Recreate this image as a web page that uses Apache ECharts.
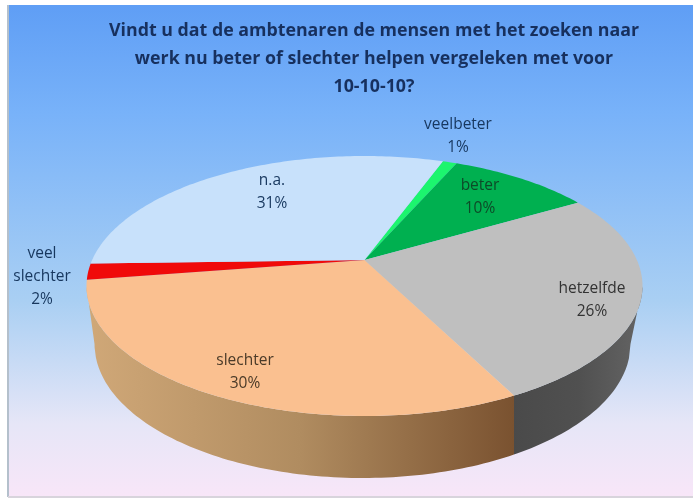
<!DOCTYPE html>
<html><head><meta charset="utf-8">
<style>html,body{margin:0;padding:0;background:#fff}#c{width:693px;height:499px}</style>
<script src="https://cdn.jsdelivr.net/npm/echarts@6/dist/echarts.min.js"></script>
</head><body><div id="c"></div>
<script>
const categories = ['veelbeter','beter','hetzelfde','slechter','veel slechter','n.a.'];
const values = [1,10,26,30,2,31];
const titleLines = ['Vindt u dat de ambtenaren de mensen met het zoeken naar','werk nu beter of slechter helpen vergeleken met voor','10-10-10?'];

const topColors = ['#1cf56e','#00b050','#bfbfbf','#fac090','#f00a0a','#c8e1fb'];
const wallStops = [null,null,['#4a4a4a','#505050','#646464'],['#d0a878','#b08c60','#7a5230'],null,null];
const labelPos = [[458,136],[480,197],[592,300],[245,372],[42,277],[272,192]];
const labelColors = ['#17375e','#0d4a28','#333333','#4a3a28','#17375e','#17375e'];

const START = 20, TILT = -0.2;
const TOP = {cx:364.5, cy:286, rx:278, ry:130};
const BASE = {cx:362.5, cy:344, rx:268, ry:134};
const total = values.reduce((a,b)=>a+b,0);

// perspective: true pie angle -> normalised point on the projected ellipse
function proj(deg){
  const t = deg*Math.PI/180, u = Math.sin(t), v = -Math.cos(t);
  const d = 1 + TILT*v;
  return [u*Math.sqrt(1-TILT*TILT)/d, (v+TILT)/d];
}
function place(p,e){ return [e.cx+e.rx*p[0], e.cy+e.ry*p[1]]; }
// the wall drops straight down from the rim to the lower ellipse
function drop(pt){
  const x = Math.max(BASE.cx-BASE.rx, Math.min(BASE.cx+BASE.rx, pt[0]));
  const n = (x-BASE.cx)/BASE.rx;
  return [x, BASE.cy + BASE.ry*Math.sqrt(Math.max(0,1-n*n))];
}

function renderItem(params, api){
  const i = params.dataIndex;
  let cum = 0; for(let k=0;k<i;k++) cum += values[k];
  const a0 = START + cum/total*360, a1 = a0 + api.value(1)/total*360;
  const rim = [];
  for(let a=a0;;a+=1){ const c=Math.min(a,a1); rim.push(proj(c)); if(c>=a1)break; }
  const apex = [TOP.cx, TOP.cy + TOP.ry*TILT];
  const children = [];
  const front = rim.filter(p=>p[1]>=0);
  if(wallStops[i] && front.length>1){
    const up = front.map(p=>place(p,TOP)), down = up.map(drop).reverse();
    const s = wallStops[i];
    children.push({type:'polygon',shape:{points:up.concat(down)},
      style:{fill:new echarts.graphic.LinearGradient(0,0,1,0,s.map((c,n)=>({offset:n/(s.length-1),color:c})))}});
  }
  children.push({type:'polygon',shape:{points:[apex].concat(rim.map(p=>place(p,TOP)))},
    style:{fill:topColors[i]}});
  return {type:'group',children};
}
function renderLabel(params, api){
  const i = params.dataIndex, p = labelPos[i];
  return {type:'text',x:p[0],y:p[1],style:{
    text:categories[i].replace(' ','\n')+'\n'+api.value(1)+'%',
    font:'15.5px "Open Sans"',fill:labelColors[i],align:'center',verticalAlign:'middle',lineHeight:23}};
}

const chart = echarts.init(document.getElementById('c'),null,{renderer:'canvas'});
const rows = categories.map((c,i)=>[i,values[i],c]);
chart.setOption({
  animation:false,
  backgroundColor:'#ffffff',
  title:{text:titleLines.join('\n'),left:369,top:12,textAlign:'center',
    textStyle:{fontFamily:'Open Sans',fontSize:17.8,fontWeight:'bold',color:'#17305e',lineHeight:28}},
  graphic:[
    {type:'rect',z:-10,shape:{x:8,y:5,width:685,height:492},
     style:{fill:new echarts.graphic.LinearGradient(0,0,0,1,[
      {offset:0,color:'#5f9ef5'},{offset:0.22,color:'#78b2f9'},{offset:0.6,color:'#a9cff3'},{offset:0.85,color:'#e6e6f7'},{offset:1,color:'#f8e6f8'}])}},
    {type:'line',z:-9,shape:{x1:8,y1:5,x2:8,y2:497},style:{stroke:'#b4c0cc',lineWidth:2}},
    {type:'line',z:-9,shape:{x1:8,y1:497,x2:693,y2:497},style:{stroke:'#d8d4dc',lineWidth:2}}
  ],
  series:[
    {type:'custom',coordinateSystem:'none',data:rows,renderItem,silent:true,z:2},
    {type:'custom',coordinateSystem:'none',data:rows,renderItem:renderLabel,silent:true,z:3}
  ]
});
</script></body></html>
